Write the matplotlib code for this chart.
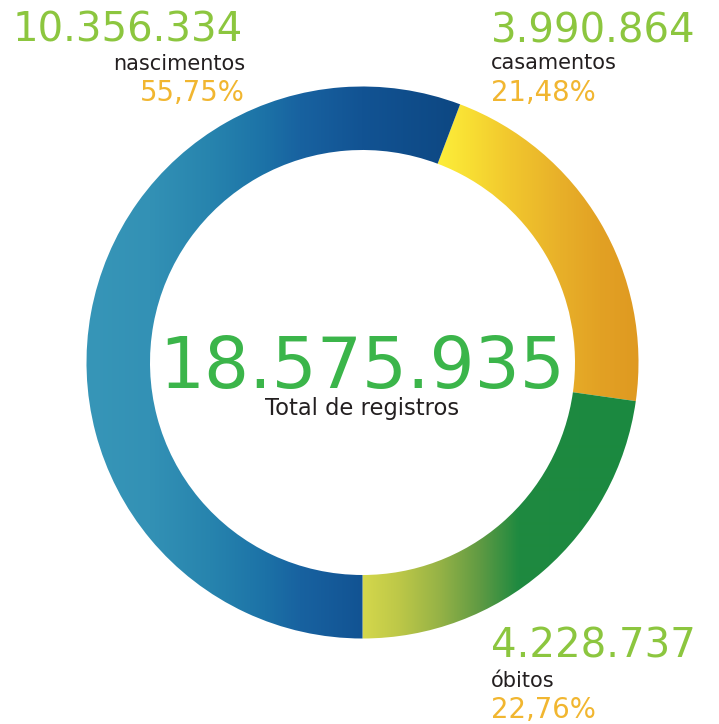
import numpy as np
import matplotlib
matplotlib.use("Agg")
import matplotlib.pyplot as plt
from matplotlib.colors import to_rgb

# ---- data ----
categories = ["casamentos", "óbitos", "nascimentos"]
values = [3990864, 4228737, 10356334]
value_labels = ["3.990.864", "4.228.737", "10.356.334"]
pct_labels = ["21,48%", "22,76%", "55,75%"]
total_label = "18.575.935"
total_caption = "Total de registros"

# ---- style ----
FONT = "DejaVu Sans"
W, H = 719, 724
CX, CY_PX = 362.5, 362.5
R_OUT, RING = 276, 63.5
NUM_GREEN = "#8cc63f"
PCT_YELLOW = "#f1b630"
TOTAL_GREEN = "#3bb54a"
DARK = "#231f20"

# horizontal gradient stops (screen x px, colour) per segment
gradients = {
    "casamentos": [(436, "#fdef3b"), (470, "#f8de33"), (510, "#f1c72e"),
                   (560, "#e8b029"), (600, "#e2a124"), (640, "#df9921")],
    "óbitos": [(362, "#d5d84c"), (400, "#bcc748"), (440, "#95b246"),
               (480, "#5f9a43"), (518, "#1f8a40"), (640, "#1b8940")],
    "nascimentos": [(87, "#3796b8"), (150, "#3391b5"), (210, "#2784ae"),
                    (265, "#1c72a7"), (300, "#1862a0"), (362, "#125393"),
                    (460, "#0d4782")],
}

fig = plt.figure(figsize=(W / 100, H / 100), dpi=100)
ax = fig.add_axes([0, 0, 1, 1])

total = sum(values)
start_cw = 180 - (values[0] + values[1]) / total * 360  # clockwise from 12 o'clock
wedges, _ = ax.pie(values, radius=R_OUT, center=(CX, H - CY_PX),
                   startangle=90 - start_cw, counterclock=False,
                   wedgeprops=dict(width=RING, linewidth=0, edgecolor="none"),
                   colors=["none"] * len(values))

xs = np.arange(0, W, 0.5)
for cat, w in zip(categories, wedges):
    stops = gradients[cat]
    px = [s[0] for s in stops]
    cols = np.array([to_rgb(s[1]) for s in stops])
    img = np.stack([np.interp(xs, px, cols[:, k]) for k in range(3)], axis=-1)[None, :, :]
    im = ax.imshow(img, extent=(0, W, 0, H), aspect="auto", interpolation="bilinear", zorder=2)
    im.set_clip_path(w)

ax.set_xlim(0, W)
ax.set_ylim(0, H)
ax.axis("off")


def t(x, y_px, s, size, color, ha="left"):
    ax.text(x, H - y_px, s, fontsize=size, color=color, ha=ha, va="baseline",
            family=FONT, zorder=5)


# nascimentos (top-left, right aligned)
t(243, 41.5, value_labels[2], 29, NUM_GREEN, "right")
t(245, 70, categories[2], 15, DARK, "right")
t(245, 100.5, pct_labels[2], 19.8, PCT_YELLOW, "right")

# casamentos (top-right)
t(491, 42.5, value_labels[0], 29, NUM_GREEN)
t(491, 69, categories[0], 15, DARK)
t(491, 100.5, pct_labels[0], 19.8, PCT_YELLOW)

# óbitos (bottom-right)
t(491, 658, value_labels[1], 29, NUM_GREEN)
t(491, 687, categories[1], 15, DARK)
t(491, 718, pct_labels[1], 19.8, PCT_YELLOW)

# centre
t(CX, 388, total_label, 51, TOTAL_GREEN, "center")
t(CX, 415, total_caption, 16.3, DARK, "center")

fig.savefig("out.png", dpi=100)
